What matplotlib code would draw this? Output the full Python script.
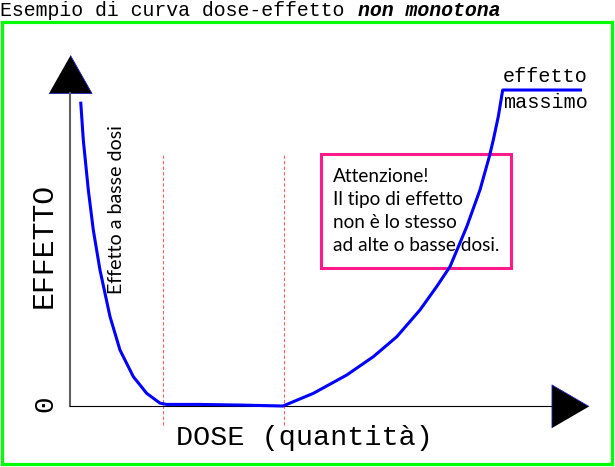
import matplotlib
matplotlib.use('Agg')
import matplotlib.pyplot as plt
from matplotlib.patches import Rectangle

W, H = 615, 467
MONO = 'Liberation Mono'
SANS = ['Lato', 'DejaVu Sans']

# curva dose-effetto
dose = [2.14, 2.66, 3.66, 4.66, 6.0, 8.0, 10.0, 12.66, 15.34, 18.0, 19.3, 26.0, 34.0, 42.6,
        48.66, 55.34, 60.66, 65.34, 70.0, 73.34, 76.0, 79.34, 82.0, 83.86, 84.66, 85.66,
        86.54, 102.4]
effetto = [96.3, 84.2, 68.4, 55.7, 43.0, 28.3, 17.7, 9.3, 4.0, 0.9, 0.5, 0.5, 0.3, 0.0,
           4.0, 9.8, 15.6, 21.9, 30.4, 37.8, 44.1, 56.7, 68.4, 78.9, 84.2, 91.6,
           100.0, 100.0]
soglie = [18.6, 42.8]

testo_box = "Attenzione!\nIl tipo di effetto\nnon è lo stesso\nad alte o basse dosi."

# estensione assi (unita' dati)
X_MAX, Y_MAX = 103.6, 111.08
X_LINE, Y_LINE = 96.2, 99.05

fig = plt.figure(figsize=(W/100, H/100), dpi=100)
ax = fig.add_axes([70/W, 61/H, 518/W, 351/H])
ax.set_xlim(0, X_MAX)
ax.set_ylim(0, Y_MAX)
ax.patch.set_visible(False)
ax.set_xticks([])
ax.set_yticks([])
for s in ['top', 'right']:
	ax.spines[s].set_visible(False)
ax.spines['left'].set_color('#606060')
ax.spines['left'].set_linewidth(1.5)
ax.spines['left'].set_bounds(0, Y_LINE)
ax.spines['bottom'].set_color('black')
ax.spines['bottom'].set_linewidth(0.8)
ax.spines['bottom'].set_bounds(0, X_LINE)

# frecce degli assi
up = [(-21.5, -19), (21.5, -19), (0, 19)]
right = [(-18.5, -21.5), (-18.5, 21.5), (18.5, 0)]
ax.plot([0], [(Y_LINE + Y_MAX) / 2], marker=up, markersize=31, color='black',
		markeredgecolor='#2020c0', markeredgewidth=0.6, clip_on=False)
ax.plot([(X_LINE + X_MAX) / 2], [0], marker=right, markersize=31, color='black',
		markeredgecolor='#2020c0', markeredgewidth=0.6, clip_on=False)

ax.vlines(soglie, -6, 80, colors='#ff6060', linewidth=0.8, linestyles=(0, (3, 2)), clip_on=False)
ax.plot(dose, effetto, color='#0000ff', linewidth=2.2, clip_on=False, zorder=5,
		solid_capstyle='butt', solid_joinstyle='round')

def ftext(x, y, s, **kw):
	return fig.text(x/W, 1 - y/H, s, **kw)

ftext(0, 10, 'Esempio di curva dose-effetto ', family=MONO, fontsize=14.3, ha='left', va='center')
ftext(358.5, 10, 'non monotona', family=MONO, fontsize=14.3, ha='left', va='center',
	  weight='bold', style='italic')

ftext(44, 245, 'EFFETTO', family=MONO, fontsize=21.5, rotation=90, ha='center', va='center')
ftext(45, 404, '0', family=MONO, fontsize=20, rotation=90, ha='center', va='center')
ftext(304, 438, 'DOSE (quantità)', family=MONO, fontsize=20.5, ha='center', va='center')
ftext(503, 76, 'effetto', family=MONO, fontsize=14.5, ha='left', va='center')
ftext(503, 102, 'massimo', family=MONO, fontsize=14.5, ha='left', va='center')
ftext(117, 209.5, 'Effetto a basse dosi', family=SANS, fontsize=14.1, rotation=90, ha='center', va='center')
ftext(333, 211, testo_box, family=SANS, fontsize=13.7, ha='left', va='center', linespacing=1.42)

fig.add_artist(Rectangle((321/W, 1 - 268/H), 190/W, 114/H, transform=fig.transFigure,
						 fill=False, edgecolor='#ff1a8c', linewidth=2.2, zorder=-1))
fig.add_artist(Rectangle((1.5/W, 1 - 463.5/H), 610/W, 442/H, transform=fig.transFigure,
						 fill=False, edgecolor='#00ff00', linewidth=2.3, zorder=-1))

fig.savefig('out.png', dpi=100)
